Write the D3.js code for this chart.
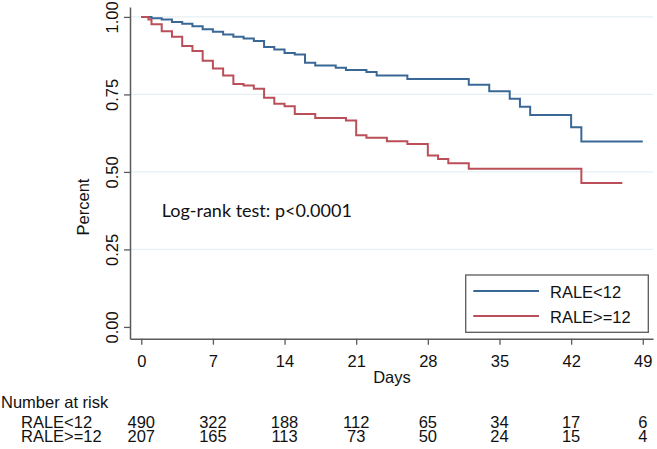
<!DOCTYPE html>
<html><head><meta charset="utf-8">
<script src="https://cdn.jsdelivr.net/npm/d3@7"></script>
<style>
html,body{margin:0;padding:0;background:#fff;}
svg{display:block;}
</style></head>
<body>
<svg id="chart" width="657" height="449"></svg>
<script>
// ---- data ----
const seriesNames = ["RALE<12", "RALE>=12"];
const blueTimes = [0,1,2,3,4,5,6,7,8,9,10,11,12,13,14,15,16,17,19,20,22,23,26,32,34,36,37,38,42,43];
const blueSurv  = [1,0.996,0.992,0.984,0.978,0.970,0.960,0.952,0.943,0.936,0.930,0.922,0.903,0.895,0.884,0.879,0.852,0.843,0.836,0.829,0.822,0.811,0.800,0.781,0.760,0.736,0.710,0.684,0.644,0.598];
const blueEnd = 49;
const redTimes = [0,0.7,1,2,3,4,5,6,7,8,9,10,11,12,13,14,15,17,20,21,22,24,26,28,29,30,32,43];
const redSurv  = [1,0.992,0.976,0.954,0.936,0.906,0.890,0.859,0.834,0.811,0.784,0.779,0.768,0.739,0.720,0.712,0.687,0.674,0.666,0.618,0.610,0.599,0.590,0.553,0.542,0.528,0.510,0.464];
const redEnd = 47;
const xTicks = [0,7,14,21,28,35,42,49];
const yTicks = [0,0.25,0.5,0.75,1];
const gridTicks = [0.25,0.5,0.75,1];
const riskLow  = [490,322,188,112,65,34,17,6];
const riskHigh = [207,165,113,73,50,24,15,4];
const annotation = "Log-rank test: p<0.0001";

// ---- drawing ----
const svg = d3.select("#chart");
const font = "'Liberation Sans', Arial, sans-serif";
const fs = 16.5;
const blue = "#3a6896", red = "#bb4f59", axisCol = "#5a5a5a";

const x = d3.scaleLinear().domain([-1.1, 50]).range([130, 653]);
const y = d3.scaleLinear().domain([-0.038, 1.032]).range([338.7, 7]);

// gridlines
svg.append("g").selectAll("line").data(gridTicks).join("line")
  .attr("x1", x.range()[0]).attr("x2", x.range()[1])
  .attr("y1", d => y(d)).attr("y2", d => y(d))
  .attr("stroke", "#e6eff3").attr("stroke-width", 1.2);

// y axis
const gy = svg.append("g").attr("transform", `translate(${x.range()[0]},0)`)
  .call(d3.axisLeft(y).tickValues(yTicks).tickFormat(d3.format(".2f")).tickSize(6).tickSizeOuter(0));
gy.select(".domain").attr("stroke", axisCol).attr("stroke-width", 1.5);
gy.selectAll(".tick line").attr("stroke", axisCol).attr("stroke-width", 1.3);
gy.selectAll(".tick text")
  .attr("transform", "rotate(-90)")
  .attr("x", 0).attr("y", -12.5).attr("dy", 0)
  .attr("text-anchor", "middle")
  .attr("font-family", font).attr("font-size", fs).attr("fill", "#111");

// x axis
const gx = svg.append("g").attr("transform", `translate(0,${y.range()[0]})`)
  .call(d3.axisBottom(x).tickValues(xTicks).tickSize(6).tickSizeOuter(0));
gx.select(".domain").attr("stroke", axisCol).attr("stroke-width", 1.5);
gx.selectAll(".tick line").attr("stroke", axisCol).attr("stroke-width", 1.3);
gx.selectAll(".tick text")
  .attr("y", 28.3).attr("dy", 0)
  .attr("font-family", font).attr("font-size", fs).attr("fill", "#111");

// axis titles
svg.append("text").text("Days")
  .attr("x", x(24.5)).attr("y", 382.5).attr("text-anchor", "middle")
  .attr("font-family", font).attr("font-size", fs).attr("fill", "#111");
svg.append("text").text("Percent")
  .attr("transform", "translate(89.3,207) rotate(-90)")
  .attr("text-anchor", "middle")
  .attr("font-family", font).attr("font-size", fs).attr("fill", "#111");

// curves
const line = d3.line().x(d => x(d[0])).y(d => y(d[1])).curve(d3.curveStepAfter);
function pts(times, surv, end) {
  const p = times.map((t, i) => [t, surv[i]]);
  p.push([end, surv[surv.length - 1]]);
  return p;
}
svg.append("path").attr("d", line(pts(blueTimes, blueSurv, blueEnd)))
  .attr("fill", "none").attr("stroke", blue).attr("stroke-width", 2);
svg.append("path").attr("d", line(pts(redTimes, redSurv, redEnd)))
  .attr("fill", "none").attr("stroke", red).attr("stroke-width", 2);

// annotation
svg.append("text").text(annotation)
  .attr("x", 161.7).attr("y", 216.8)
  .attr("font-family", "Lato, 'Open Sans', sans-serif").attr("font-size", 18).attr("fill", "#111");

// legend
const lg = svg.append("g");
lg.append("rect").attr("x", 465.7).attr("y", 275).attr("width", 182.6).attr("height", 57.3)
  .attr("fill", "#fff").attr("stroke", axisCol).attr("stroke-width", 1.3);
const legColors = [blue, red];
const legY = [291, 316];
seriesNames.forEach((n, i) => {
  lg.append("line").attr("x1", 473.3).attr("x2", 539).attr("y1", legY[i]).attr("y2", legY[i])
    .attr("stroke", legColors[i]).attr("stroke-width", 2);
  lg.append("text").text(n).attr("x", 550).attr("y", legY[i] + 6.8)
    .attr("font-family", font).attr("font-size", fs).attr("fill", "#111");
});

// number at risk table
svg.append("text").text("Number at risk").attr("x", 1).attr("y", 408.3)
  .attr("font-family", font).attr("font-size", fs).attr("fill", "#111");
const rows = [riskLow, riskHigh];
const rowY = [427.7, 441.7];
rows.forEach((r, i) => {
  svg.append("text").text(seriesNames[i]).attr("x", 21).attr("y", rowY[i])
    .attr("font-family", font).attr("font-size", fs).attr("fill", "#111");
  svg.append("g").selectAll("text").data(r).join("text")
    .text(d => d)
    .attr("x", (d, j) => x(xTicks[j])).attr("y", rowY[i])
    .attr("text-anchor", "middle")
    .attr("font-family", font).attr("font-size", fs).attr("fill", "#111");
});
</script>
</body></html>
